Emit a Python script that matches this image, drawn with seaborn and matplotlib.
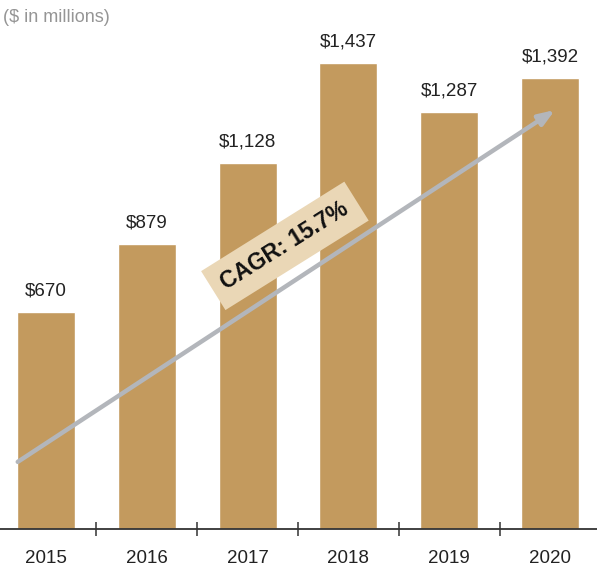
import matplotlib
matplotlib.use("Agg")
import matplotlib.pyplot as plt
from matplotlib.ticker import FixedLocator
import seaborn as sns
import pandas as pd

years = ["2015", "2016", "2017", "2018", "2019", "2020"]
revenue = [670, 879, 1128, 1437, 1287, 1392]
value_labels = ["$670", "$879", "$1,128", "$1,437", "$1,287", "$1,392"]
cagr_label = "CAGR: 15.7%"
unit_note = "($ in millions)"

# trend arrow endpoints (category position, value)
trend_start = (-0.28, 207)
trend_end = (5.05, 1292)

sns.set_theme(style="white")
plt.rcParams["font.family"] = ["Liberation Sans Narrow", "Liberation Sans", "DejaVu Sans"]

BAR = "#C39A5E"
BOX = "#EAD7B6"

df = pd.DataFrame({"year": years, "revenue": revenue})

fig = plt.figure(figsize=(5.97, 5.69), dpi=100)
ax = fig.add_axes([0, 40 / 569, 1, 529 / 569])

sns.barplot(data=df, x="year", y="revenue", color=BAR, saturation=1,
            width=0.575, ax=ax, zorder=2)

ax.set_xlim(-0.456, 5.466)
ax.set_ylim(0, 1631)
ax.set_xlabel("")
ax.set_ylabel("")
ax.set_yticks([])

for s in ["top", "right", "left"]:
    ax.spines[s].set_visible(False)
ax.spines["bottom"].set_color("#333333")
ax.spines["bottom"].set_linewidth(1.3)
ax.spines["bottom"].set_zorder(4)

ax.tick_params(axis="x", which="major", length=0, pad=15,
               labelsize=13.5, labelcolor="#222222")
ax.xaxis.set_minor_locator(FixedLocator([0.5, 1.5, 2.5, 3.5, 4.5]))
ax.tick_params(axis="x", which="minor", direction="inout", length=10,
               width=1.1, color="#333333", bottom=True)

for i, (v, lab) in enumerate(zip(revenue, value_labels)):
    ax.annotate(lab, (i, v), xytext=(0, 9), textcoords="offset points",
                ha="center", va="bottom", fontsize=13.5, color="#222222")

ax.annotate("", xy=trend_end, xytext=trend_start,
            arrowprops=dict(arrowstyle="-|>,head_length=0.8,head_width=0.3",
                            color="#B3B6BB", lw=3.2, shrinkA=0, shrinkB=0),
            zorder=5)

ax.text(2.37, 873, cagr_label, rotation=32, rotation_mode="anchor",
        ha="center", va="center", fontsize=16.5, fontweight="bold",
        family=["Liberation Sans", "DejaVu Sans"], color="#111111",
        bbox=dict(boxstyle="square,pad=0.5", fc=BOX, ec="none"), zorder=6)

fig.text(3 / 597, 1 - 18 / 569, unit_note, ha="left", va="center",
         fontsize=13, color="#959595")

fig.savefig("out.png", dpi=100)
